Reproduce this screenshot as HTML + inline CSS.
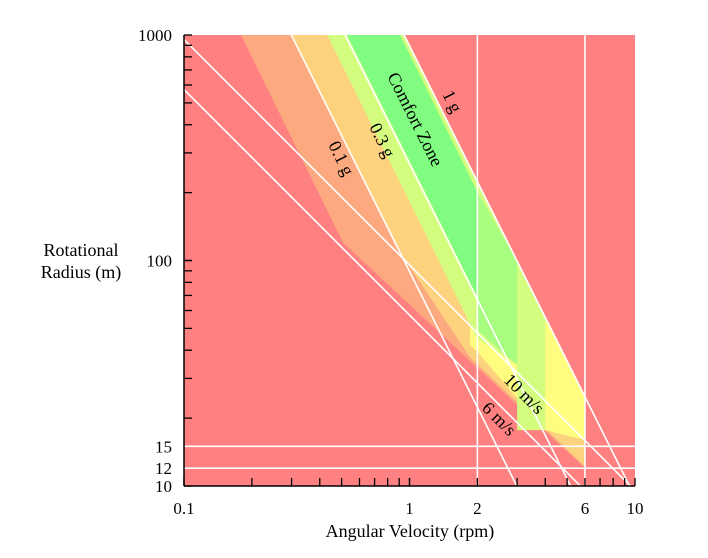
<!DOCTYPE html>
<html><head><meta charset="utf-8">
<style>
html,body{margin:0;padding:0;background:#fff;overflow:hidden;width:708px;height:558px;}
svg{display:block;font-family:"Liberation Serif",serif;}
</style></head>
<body>
<svg id="chart" width="708" height="558" viewBox="0 0 708 558">
  <defs><clipPath id="plotclip"><rect x="184" y="35" width="451" height="451"/></clipPath></defs>
  <g id="zones" clip-path="url(#plotclip)"></g>
  <g id="lines" clip-path="url(#plotclip)"></g>
  <g id="axes"></g>
  <g id="labels"></g>
</svg>
<script>
// ---- data ----
const gLevels = [0.1, 0.3, 1];
const vLevels = [6, 10];
const rpmLines = [2, 6];
const radiusLines = [12, 15];
const xTickLabels = [0.1, 1, 2, 6, 10];
const yTickLabels = [1000, 100, 15, 12, 10];
const zoneOrange = [[0.179,1000],[0.955,1000],[6,24.8],[6,12],[0.507,120]];
const zoneLightOrange = [[0.301,1000],[0.955,1000],[6,24.8],[6,12.2],[1.855,37.3],[0.908,109]];
const zoneYellow = [[1.855,51.8],[4,56.2],[6,24.8],[6,16],[4,17.7],[2,39.3],[1.855,42.2]];
const zoneYellowGreen = [[0.431,1000],[0.955,1000],[4,56.2],[4,17.7],[3,17.7],[3,34.4],[2,44.9]];
const zoneGreen = [[0.528,1000],[0.908,1000],[2,201],[2,68.9]];
const zoneLightGreen = [[2,201],[3,99.4],[3,34.4],[2,49.2]];

// ---- scales ----
const X0=184, X1=635, Y0=486, Y1=35;
function xs(rpm){ return X0 + (Math.log10(rpm)+1)/2*(X1-X0); }
function ys(r){ return Y0 - (Math.log10(r)-1)/2*(Y0-Y1); }
function omega(rpm){ return rpm*2*Math.PI/60; }
const NS="http://www.w3.org/2000/svg";
function mk(tag, attrs, parent){
  const e=document.createElementNS(NS,tag);
  for(const k in attrs) e.setAttribute(k, attrs[k]);
  parent.appendChild(e); return e;
}
const zones=document.getElementById('zones');
const lines=document.getElementById('lines');
const axes=document.getElementById('axes');
const labels=document.getElementById('labels');

const bg=mk('rect',{x:X0,y:Y1,width:X1-X0,height:Y0-Y1,fill:'#ff8080'},zones);



function zone(pts,color,name){
  const p=mk('polygon',{points:pts.map(d=>xs(d[0]).toFixed(1)+','+ys(d[1]).toFixed(1)).join(' '),fill:color},zones);
  
  
}
zone(zoneOrange,'#fca97f','zone-orange');
zone(zoneLightOrange,'#fdd27f','zone-light-orange');
zone(zoneYellow,'#fffd80','zone-yellow');
zone(zoneYellowGreen,'#d4fc7e','zone-yellow-green');
zone(zoneGreen,'#80fc80','zone-comfort-green');
zone(zoneLightGreen,'#a8fc80','zone-light-green');

const LS={stroke:'#fff','stroke-width':1.6,fill:'none'};
gLevels.forEach(g=>{
  const a=g*9.81;
  const r1=a/Math.pow(omega(0.1),2), r2=a/Math.pow(omega(10),2);
  const l=mk('line',Object.assign({x1:xs(0.1),y1:ys(r1),x2:xs(10),y2:ys(r2)},LS),lines);
  
  
});
vLevels.forEach(v=>{
  const r1=v/omega(0.1), r2=v/omega(10);
  const l=mk('line',Object.assign({x1:xs(0.1),y1:ys(r1),x2:xs(10),y2:ys(r2)},LS),lines);
  
  
});
rpmLines.forEach(w=>{
  const l=mk('line',Object.assign({x1:xs(w),y1:Y1,x2:xs(w),y2:Y0},LS),lines);
  
  
});
radiusLines.forEach(r=>{
  const l=mk('line',Object.assign({x1:X0,y1:ys(r),x2:X1,y2:ys(r)},LS),lines);
  
  
});

const ax1=mk('line',{x1:X0,y1:Y1,x2:X0,y2:Y0,stroke:'#000','stroke-width':1.5},axes);


const ax2=mk('line',{x1:X0,y1:Y0,x2:X1,y2:Y0,stroke:'#000','stroke-width':1.5},axes);


for(let d=1; d<=2; d++){
  for(let m=1;m<=10;m++){
    const yv=Math.pow(10,d)*m;
    if(yv<=1000){
      const t=mk('line',{x1:X0,y1:ys(yv),x2:X0+8,y2:ys(yv),stroke:'#000','stroke-width':1.3},axes);
      
      
    }
    const xv=Math.pow(10,d-2)*m;
    if(xv<=10){
      const t2=mk('line',{x1:xs(xv),y1:Y0,x2:xs(xv),y2:Y0-8,stroke:'#000','stroke-width':1.3},axes);
      
      
    }
  }
}
xTickLabels.forEach(v=>{
  const t=mk('text',{x:xs(v),y:514,'text-anchor':'middle','font-size':17},axes);
  t.textContent=String(v);
  
  
});
yTickLabels.forEach(v=>{
  const t=mk('text',{x:172,y:ys(v)+6,'text-anchor':'end','font-size':17},axes);
  t.textContent=String(v);
  
  
});
const xt=mk('text',{x:410,y:537,'text-anchor':'middle','font-size':18},axes);
xt.textContent='Angular Velocity (rpm)';


const yt1=mk('text',{x:81,y:256,'text-anchor':'middle','font-size':18},axes);
yt1.textContent='Rotational';


const yt2=mk('text',{x:81,y:278,'text-anchor':'middle','font-size':18},axes);
yt2.textContent='Radius (m)';



function lab(txt,x,y,ang,name){
  const t=mk('text',{x:x,y:y,'text-anchor':'middle','font-size':18,transform:'rotate('+ang+' '+x+' '+y+')'},labels);
  t.textContent=txt;
  
  
}
lab('0.1 g',336,161,63.4,'label-0.1g');
lab('0.3 g',377,143,63.4,'label-0.3g');
lab('Comfort Zone',410,122,63.4,'label-comfort-zone');
lab('1 g',447,104,63.4,'label-1g');
lab('10 m/s',520,398,45,'label-10ms');
lab('6 m/s',495,423,45,'label-6ms');
</script>
</body></html>
